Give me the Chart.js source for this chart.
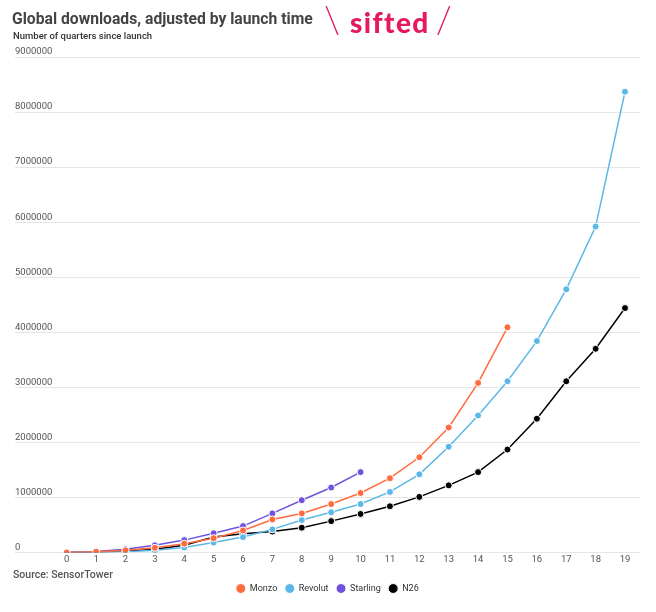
<!DOCTYPE html>
<html>
<head>
<meta charset="utf-8">
<script src="https://cdn.jsdelivr.net/npm/chart.js@4.4.1/dist/chart.umd.min.js"></script>
<style>
body{margin:0;background:#fff;font-family:Roboto,sans-serif;}
#wrap{position:relative;width:656px;height:612px;}
#title{position:absolute;left:12px;top:10.5px;font-size:15.7px;line-height:15.7px;font-weight:700;color:#444;white-space:nowrap;}
#subtitle{position:absolute;left:13px;top:31px;font-size:9.5px;line-height:9.5px;font-weight:500;color:#333;white-space:nowrap;}
#logo{position:absolute;left:324px;top:0px;color:#e5195e;white-space:nowrap;line-height:38px;}
#logo .sl{font-family:Lato,sans-serif;font-weight:300;font-size:37px;}
#logo .word{font-family:Lato,sans-serif;font-weight:900;font-size:28px;letter-spacing:1.4px;margin:0 6px 0 10px;}
#source{position:absolute;left:13px;top:569px;font-size:10.5px;line-height:11px;font-weight:500;color:#555;}
canvas{position:absolute;left:0;top:0;}
</style>
</head>
<body>
<div id="wrap">
<canvas id="downloads-chart" width="656" height="612"></canvas>
<div id="title">Global downloads, adjusted by launch time</div>
<div id="subtitle">Number of quarters since launch</div>
<div id="logo"><span class="sl">\</span><span class="word">sifted</span><span class="sl">/</span></div>
<div id="source">Source: SensorTower</div>
</div>
<script>
const quarters = [0,1,2,3,4,5,6,7,8,9,10,11,12,13,14,15,16,17,18,19];
const monzo = [0, 15000, 40000, 85000, 160000, 260000, 400000, 600000, 710000, 880000, 1080000, 1350000, 1730000, 2270000, 3080000, 4090000];
const revolut = [0, 10000, 15000, 40000, 90000, 180000, 280000, 420000, 590000, 730000, 880000, 1100000, 1420000, 1920000, 2490000, 3110000, 3840000, 4780000, 5920000, 8370000];
const starling = [0, 20000, 60000, 130000, 225000, 350000, 480000, 710000, 950000, 1180000, 1460000];
const n26 = [0, 10000, 25000, 60000, 130000, 280000, 340000, 380000, 450000, 570000, 700000, 840000, 1010000, 1220000, 1460000, 1870000, 2430000, 3110000, 3700000, 4440000];
const yTicks = [0,1000000,2000000,3000000,4000000,5000000,6000000,7000000,8000000,9000000];

function points(values){
    return values.map((v,i) => ({x: quarters[i], y: v}));
}

function series(label, values, color){
    return {
        label: label,
        data: points(values),
        borderColor: color,
        backgroundColor: color,
        pointBackgroundColor: color,
        pointBorderColor: '#fff',
        pointBorderWidth: 1,
        pointRadius: 3.5,
        pointStyle: 'circle',
        borderWidth: 1.5,
        tension: 0
    };
}

const ctx = document.getElementById('downloads-chart').getContext('2d');

const myChart = new Chart(ctx, {
    type: 'line',
    data: {
        datasets: [
            series('Monzo', monzo, '#ff6b3f'),
            series('Revolut', revolut, '#5cb8e6'),
            series('Starling', starling, '#7152e0'),
            series('N26', n26, '#000000')
        ]
    },
    options: {
        responsive: false,
        animation: false,
        layout: {
            padding: {top: 57, left: 15, right: 16, bottom: 9}
        },
        plugins: {
            tooltip: {enabled: false},
            legend: {
                position: 'bottom',
                labels: {
                    usePointStyle: true,
                    boxHeight: 7,
                    boxWidth: 9,
                    padding: 8,
                    color: '#333',
                    font: {family: 'Roboto', size: 9}
                }
            }
        },
        scales: {
            x: {
                type: 'linear',
                min: -1.76,
                max: 19.51,
                grid: {display: false, drawTicks: false},
                border: {display: false},
                afterBuildTicks: axis => {
                    axis.ticks = quarters.map(q => ({value: q}));
                },
                // keep the plot bottom on the 0 line, labels just under it
                afterFit: axis => {
                    axis.height = 23.5;
                },
                ticks: {
                    padding: 1,
                    color: '#555',
                    font: {family: 'Roboto', size: 9.5},
                    maxRotation: 0,
                    autoSkip: false
                }
            },
            y: {
                min: 0,
                max: 9000000,
                afterBuildTicks: axis => {
                    axis.ticks = yTicks.map(v => ({value: v}));
                },
                grid: {color: '#e6e6e6', lineWidth: 1, drawTicks: false},
                border: {display: false},
                ticks: {
                    mirror: true,
                    padding: 0,
                    labelOffset: -5,
                    color: '#555',
                    font: {family: 'Roboto', size: 9.5},
                    callback: v => String(v)
                }
            }
        }
    }
});
</script>
</body>
</html>
